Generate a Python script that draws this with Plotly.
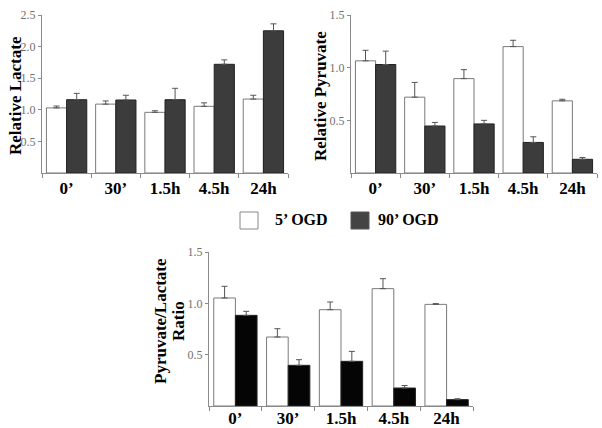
import plotly.graph_objects as go

categories = ["0’", "30’", "1.5h", "4.5h", "24h"]

lactate_5 = [1.03, 1.09, 0.96, 1.055, 1.17]
lactate_5_err = [0.03, 0.05, 0.025, 0.055, 0.06]
lactate_90 = [1.16, 1.155, 1.16, 1.72, 2.25]
lactate_90_err = [0.1, 0.075, 0.18, 0.07, 0.11]

pyruvate_5 = [1.065, 0.72, 0.896, 1.20, 0.685]
pyruvate_5_err = [0.10, 0.14, 0.085, 0.06, 0.015]
pyruvate_90 = [1.03, 0.446, 0.466, 0.29, 0.13]
pyruvate_90_err = [0.127, 0.034, 0.034, 0.054, 0.017]

ratio_5 = [1.052, 0.672, 0.938, 1.143, 0.99]
ratio_5_err = [0.114, 0.081, 0.075, 0.097, 0.007]
ratio_90 = [0.883, 0.396, 0.435, 0.175, 0.062]
ratio_90_err = [0.039, 0.055, 0.097, 0.025, 0.009]

W, H = 602, 428
SERIF = "Liberation Serif, Times New Roman, serif"
AXC = "#8a8a8a"
DARK = "#3c3c3c"

def px(x):
    return x / W

def py(y):
    return 1 - y / H

fig = go.Figure()

def add_pair(vals5, err5, vals90, err90, xa, ya, darkcol):
    fig.add_trace(go.Bar(
        x=categories, y=vals5, xaxis=xa, yaxis=ya, showlegend=False,
        marker=dict(color="white", line=dict(color="#7a7a7a", width=1)),
        error_y=dict(type="data", symmetric=False, array=err5,
                     arrayminus=[0] * len(err5), color="#555555",
                     thickness=1, width=3),
        name="5’ OGD"))
    fig.add_trace(go.Bar(
        x=categories, y=vals90, xaxis=xa, yaxis=ya, showlegend=False,
        marker=dict(color=darkcol, line=dict(color="#222222", width=1)),
        error_y=dict(type="data", symmetric=False, array=err90,
                     arrayminus=[0] * len(err90), color="#555555",
                     thickness=1, width=3),
        name="90’ OGD"))

add_pair(lactate_5, lactate_5_err, lactate_90, lactate_90_err, "x", "y", DARK)
add_pair(pyruvate_5, pyruvate_5_err, pyruvate_90, pyruvate_90_err, "x2", "y2", DARK)
add_pair(ratio_5, ratio_5_err, ratio_90, ratio_90_err, "x3", "y3", "#050505")

def xaxis(dom, anchor, standoff=0):
    return dict(domain=dom, anchor=anchor, range=[-0.5, 4.5], type="category",
                automargin=False,
                showline=True, linecolor=AXC, linewidth=1,
                ticks="outside", tickson="boundaries", ticklen=4, tickcolor=AXC,
                ticklabelstandoff=standoff,
                tickfont=dict(family=SERIF, size=17, color="black", weight="bold"),
                showgrid=False, zeroline=False, fixedrange=True)

def yaxis(dom, anchor, rng, vals):
    return dict(domain=dom, anchor=anchor, range=rng, automargin=False,
                tickvals=vals, ticktext=[f"{v:.1f}" for v in vals],
                showline=True, linecolor=AXC, linewidth=1,
                ticks="outside", ticklen=3, tickcolor=AXC,
                tickfont=dict(family=SERIF, size=12, color="#707070"),
                showgrid=False, zeroline=False, fixedrange=True)

fig.update_layout(
    width=W, height=H, margin=dict(l=0, r=0, t=0, b=0, autoexpand=False),
    paper_bgcolor="white", plot_bgcolor="white",
    barmode="group", bargap=0.18, bargroupgap=0,
    xaxis=xaxis([px(42), px(288)], "y"),
    yaxis=yaxis([py(173), py(15)], "x", [0, 2.5], [0.5, 1.0, 1.5, 2.0, 2.5]),
    xaxis2=xaxis([px(351), px(597)], "y2"),
    yaxis2=yaxis([py(173), py(15)], "x2", [0, 1.5], [0.5, 1.0, 1.5]),
    xaxis3=xaxis([px(209), px(473)], "y3", standoff=-3),
    yaxis3=yaxis([py(406), py(252)], "x3", [0, 1.5], [0.5, 1.0, 1.5]),
)

title_font = dict(family=SERIF, size=17, color="black", weight="bold")
annots = [
    dict(text="Relative Lactate", x=px(15), y=py(96)),
    dict(text="Relative Pyruvate", x=px(320), y=py(96)),
    dict(text="Pyruvate/Lactate", x=px(160), y=py(321)),
    dict(text="Ratio", x=px(178), y=py(321)),
]
for a in annots:
    fig.add_annotation(text=a["text"], x=a["x"], y=a["y"], xref="paper", yref="paper",
                       textangle=-90, showarrow=False, font=title_font,
                       xanchor="center", yanchor="middle")

# Legend
leg_font = dict(family=SERIF, size=16, color="black", weight="bold")
fig.add_shape(type="rect", xref="paper", yref="paper",
              x0=px(240), x1=px(258), y0=py(229), y1=py(212),
              fillcolor="white", line=dict(color="#888888", width=1))
fig.add_annotation(text="5’ OGD", x=px(273), y=py(220), xref="paper", yref="paper",
                   showarrow=False, xanchor="left", yanchor="middle", font=leg_font)
fig.add_shape(type="rect", xref="paper", yref="paper",
              x0=px(351), x1=px(369), y0=py(229), y1=py(212),
              fillcolor="#444444", line=dict(color="#555555", width=1))
fig.add_annotation(text="90’ OGD", x=px(376), y=py(220), xref="paper", yref="paper",
                   showarrow=False, xanchor="left", yanchor="middle", font=leg_font)

fig.write_html("out.html", config={"displayModeBar": False},
               post_script="document.body.style.margin='0px';document.body.style.padding='0px';document.body.style.overflow='hidden';")
